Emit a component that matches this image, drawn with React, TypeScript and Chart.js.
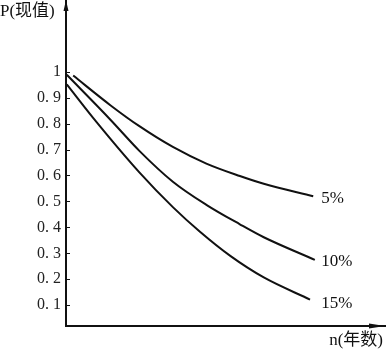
import React, { useEffect, useRef } from 'react';
import { Chart, registerables } from 'chart.js';

Chart.register(...registerables);

// ---- data ----
const yTickValues = [0.1, 0.2, 0.3, 0.4, 0.5, 0.6, 0.7, 0.8, 0.9, 1];
const yTickLabels = ['0. 1', '0. 2', '0. 3', '0. 4', '0. 5', '0. 6', '0. 7', '0. 8', '0. 9', '1'];

const n5 = [0.45, 2.8, 4.6, 6.7, 8.8, 10.9, 12.4, 15.5];
const p5 = [0.985, 0.87, 0.79, 0.71, 0.646, 0.598, 0.568, 0.52];

const n10 = [0.05, 2.8, 4.6, 6.7, 8.8, 10.9, 12.4, 15.6];
const p10 = [0.988, 0.814, 0.695, 0.576, 0.487, 0.412, 0.362, 0.275];

const n15 = [0.05, 1.7, 4.6, 6.7, 8.4, 10.3, 12.4, 15.3];
const p15 = [0.951, 0.822, 0.612, 0.478, 0.383, 0.29, 0.207, 0.122];

const seriesLabels = ['5%', '10%', '15%'];
const labelN = [16.0, 16.0, 16.0];
const labelP = [0.51, 0.27, 0.105];

const yAxisTitle = 'P(现值)';
const xAxisTitle = 'n(年数)';

const INK = '#111';
const SERIF = "'Liberation Serif', 'DejaVu Serif', 'Noto Sans CJK SC', serif";

const toPoints = (xs: number[], ys: number[]) => xs.map((x, i) => ({ x, y: ys[i] }));

const decorations = {
  id: 'decorations',
  afterDraw(chart: any) {
    const { ctx, chartArea, scales } = chart;
    const xs = scales.x;
    const ys = scales.y;
    ctx.save();
    ctx.strokeStyle = INK;
    ctx.fillStyle = INK;

    // y axis extension + arrow
    ctx.lineWidth = 2;
    ctx.beginPath();
    ctx.moveTo(chartArea.left, chartArea.bottom);
    ctx.lineTo(chartArea.left, 0);
    ctx.stroke();
    ctx.beginPath();
    ctx.moveTo(chartArea.left, 0);
    ctx.lineTo(chartArea.left - 2.5, 11);
    ctx.lineTo(chartArea.left + 2.5, 11);
    ctx.closePath();
    ctx.fill();

    // x axis arrow
    ctx.beginPath();
    ctx.moveTo(chartArea.right, chartArea.bottom);
    ctx.lineTo(chartArea.right - 16, chartArea.bottom - 2.5);
    ctx.lineTo(chartArea.right - 16, chartArea.bottom + 2.5);
    ctx.closePath();
    ctx.fill();

    // inner tick marks
    ctx.lineWidth = 1;
    yTickValues.forEach((v) => {
      const py = Math.round(ys.getPixelForValue(v)) + 0.5;
      ctx.beginPath();
      ctx.moveTo(chartArea.left, py);
      ctx.lineTo(chartArea.left + 4, py);
      ctx.stroke();
    });

    // axis titles
    ctx.font = `17px ${SERIF}`;
    ctx.textBaseline = 'middle';
    ctx.textAlign = 'left';
    ctx.fillText(yAxisTitle, 0, 12);
    ctx.textAlign = 'right';
    ctx.fillText(xAxisTitle, chartArea.right - 2, chartArea.bottom + 15);

    // series labels
    ctx.font = `17px ${SERIF}`;
    ctx.textAlign = 'left';
    seriesLabels.forEach((t, i) => {
      ctx.fillText(t, xs.getPixelForValue(labelN[i]), ys.getPixelForValue(labelP[i]));
    });
    ctx.restore();
  },
};

export default function App() {
  const ref = useRef<HTMLCanvasElement | null>(null);

  useEffect(() => {
    document.body.style.margin = '0';
    const canvas = ref.current;
    if (!canvas) return;
    const lineStyle = {
      borderColor: INK,
      borderWidth: 2,
      pointRadius: 0,
      fill: false,
      cubicInterpolationMode: 'monotone' as const,
    };
    const chart = new Chart(canvas, {
      type: 'line',
      data: {
        datasets: [
          { label: seriesLabels[0], data: toPoints(n5, p5), ...lineStyle },
          { label: seriesLabels[1], data: toPoints(n10, p10), ...lineStyle },
          { label: seriesLabels[2], data: toPoints(n15, p15), ...lineStyle },
        ],
      },
      options: {
        responsive: false,
        animation: false,
        layout: { padding: { top: 2, right: 1, left: 0, bottom: 0 } },
        plugins: { legend: { display: false }, tooltip: { enabled: false } },
        scales: {
          x: {
            type: 'linear',
            min: 0,
            max: 20,
            grid: { display: false, drawTicks: false },
            border: { display: true, color: INK, width: 2 },
            ticks: { display: false },
            afterFit: (s: any) => {
              s.height = 26;
            },
          },
          y: {
            type: 'linear',
            min: 0.02,
            max: 1.22,
            grid: { display: false, drawTicks: false },
            border: { display: true, color: INK, width: 2 },
            afterBuildTicks: (s: any) => {
              s.ticks = yTickValues.map((v) => ({ value: v }));
            },
            ticks: {
              padding: 5,
              color: '#222',
              font: { family: SERIF, size: 16 },
              callback: (_v: any, i: number) => yTickLabels[i],
            },
            afterFit: (s: any) => {
              s.width = 66;
            },
          },
        },
      },
      plugins: [decorations],
    });
    return () => chart.destroy();
  }, []);

  return (
    <div style={{ width: 386, height: 352 }}>
      <canvas ref={ref} width={386} height={352} />
    </div>
  );
}
